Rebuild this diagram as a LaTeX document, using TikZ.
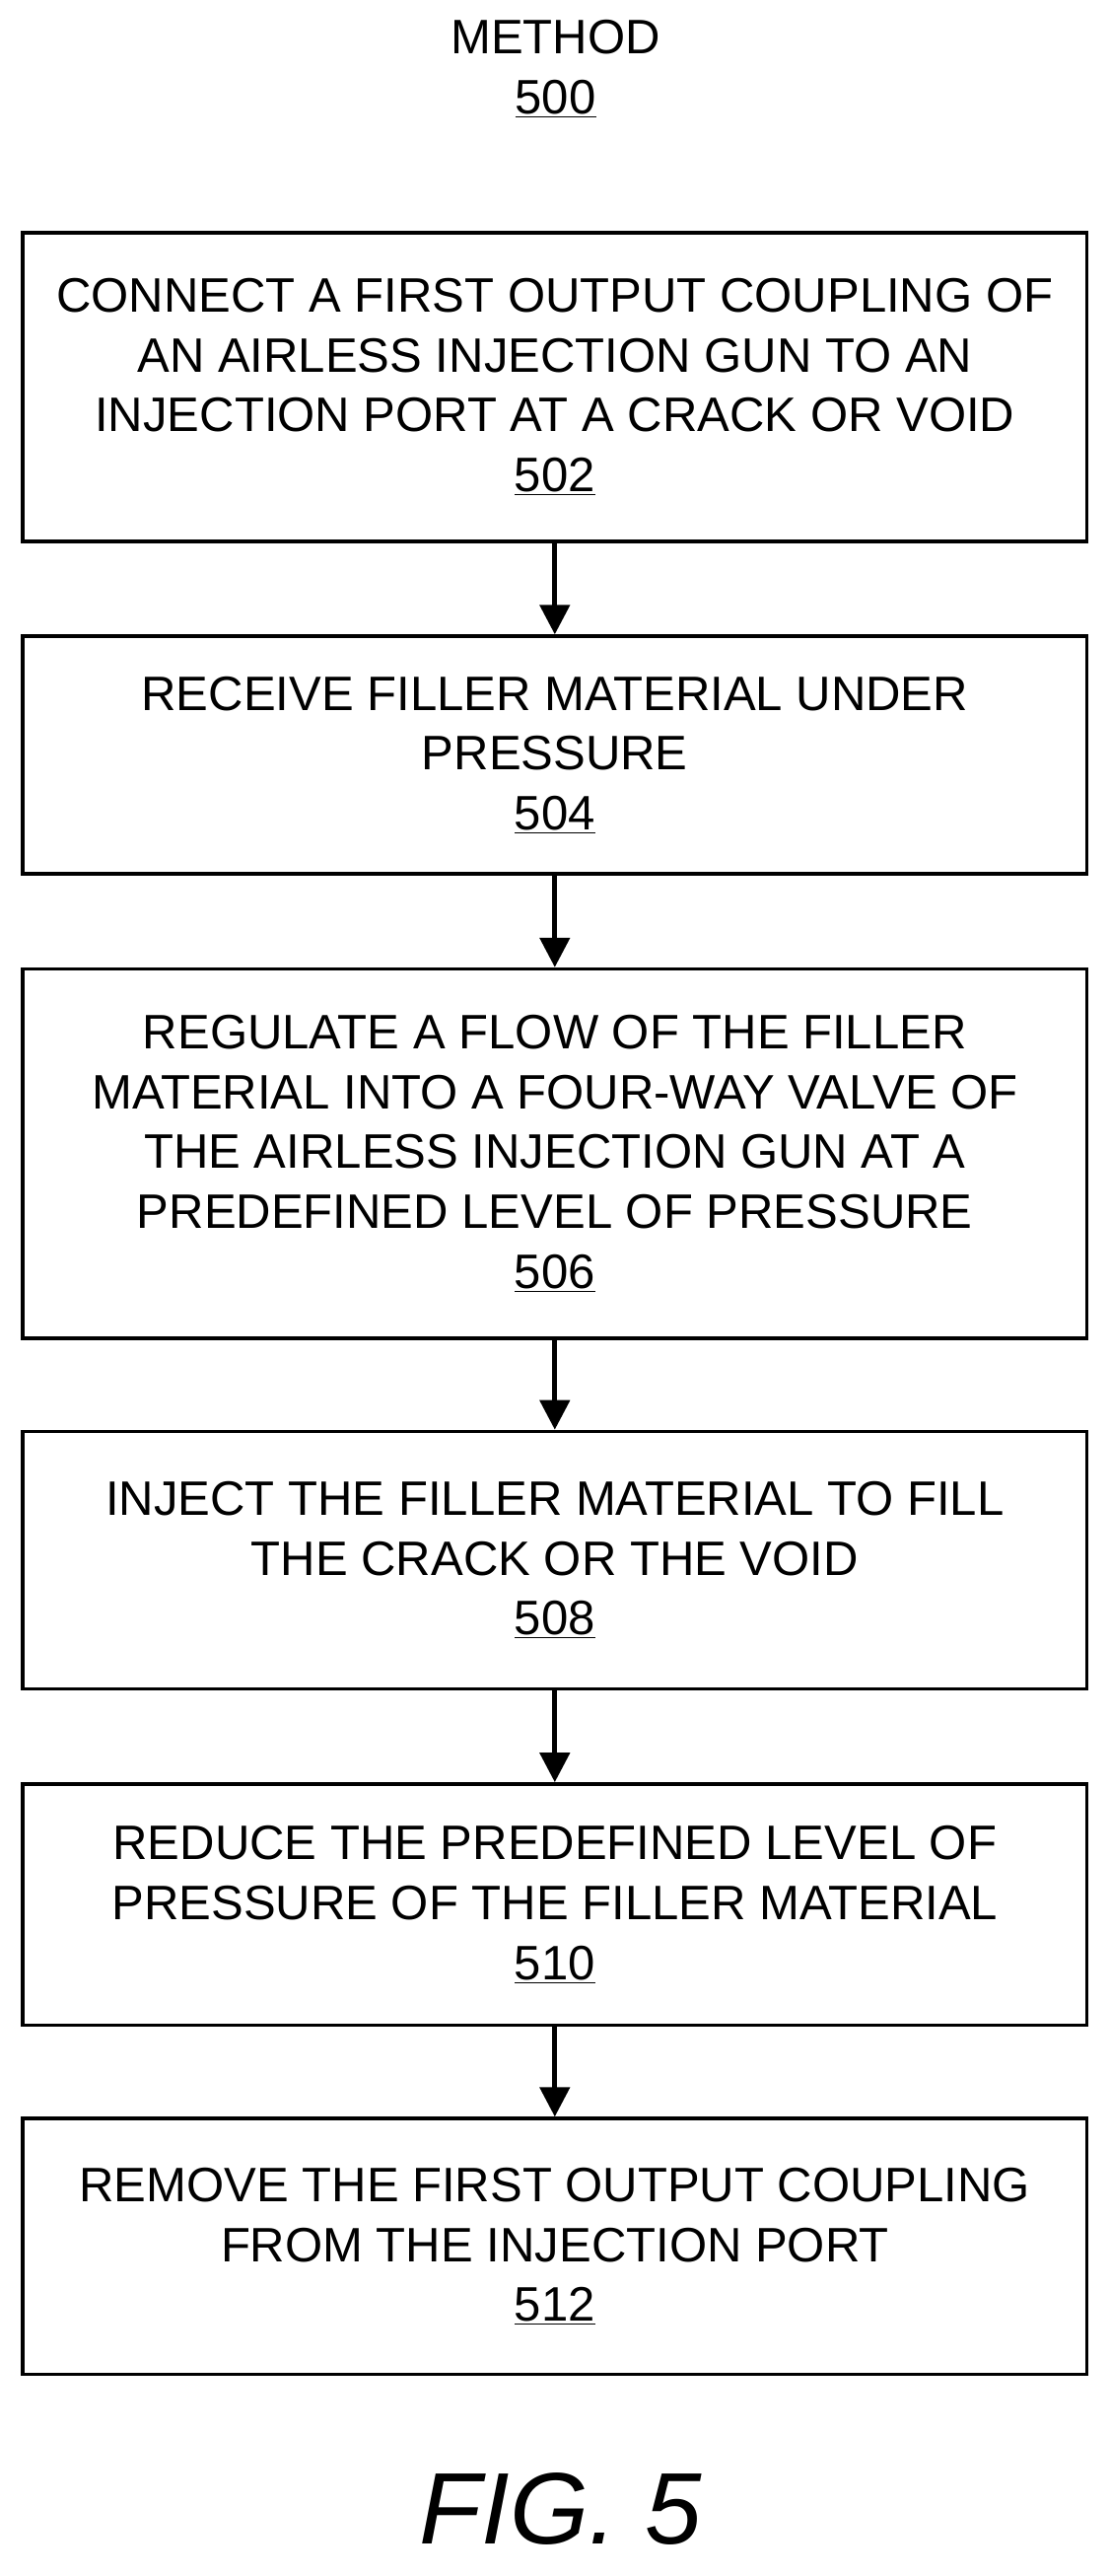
\documentclass[tikz,border=0pt]{standalone}
\usepackage{fontspec}
\setmainfont{Liberation Sans}
\usetikzlibrary{arrows.meta}
\begin{document}
\begin{tikzpicture}[x=1pt,y=-1pt,
  stepbox/.style={draw,line width=2.2pt,minimum width=649pt,align=center,inner sep=0pt,font=\fontsize{29.5}{36.5}\selectfont},
  conn/.style={line width=3pt,-{Triangle[length=18pt,width=18pt]}}]
\useasboundingbox (0,0) rectangle (677,1571);
\node[font=\fontsize{29.5}{37}\selectfont,align=center] (t) at (339,42) {METHOD\\\underline{500}};
\node[stepbox,minimum height=188pt] (b1) at (338.5,236) {CONNECT A FIRST OUTPUT COUPLING OF\\AN AIRLESS INJECTION GUN TO AN\\INJECTION PORT AT A CRACK OR VOID\\\underline{502}};
\node[stepbox,minimum height=145pt] (b2) at (338.5,460.5) {RECEIVE FILLER MATERIAL UNDER\\PRESSURE\\\underline{504}};
\node[stepbox,minimum height=225pt] (b3) at (338.5,703.5) {REGULATE A FLOW OF THE FILLER\\MATERIAL INTO A FOUR-WAY VALVE OF\\THE AIRLESS INJECTION GUN AT A\\PREDEFINED LEVEL OF PRESSURE\\\underline{506}};
\node[stepbox,minimum height=157pt] (b4) at (338.5,951.5) {INJECT THE FILLER MATERIAL TO FILL\\THE CRACK OR THE VOID\\\underline{508}};
\node[stepbox,minimum height=147pt] (b5) at (338.5,1161.5) {REDUCE THE PREDEFINED LEVEL OF\\PRESSURE OF THE FILLER MATERIAL\\\underline{510}};
\node[stepbox,minimum height=156pt] (b6) at (338.5,1370) {REMOVE THE FIRST OUTPUT COUPLING\\FROM THE INJECTION PORT\\\underline{512}};
\node[font=\fontsize{62}{64}\selectfont\itshape] (f) at (342,1530) {FIG. 5};
\draw[conn] (b1) -- (b2);
\draw[conn] (b2) -- (b3);
\draw[conn] (b3) -- (b4);
\draw[conn] (b4) -- (b5);
\draw[conn] (b5) -- (b6);
\end{tikzpicture}
\end{document}
